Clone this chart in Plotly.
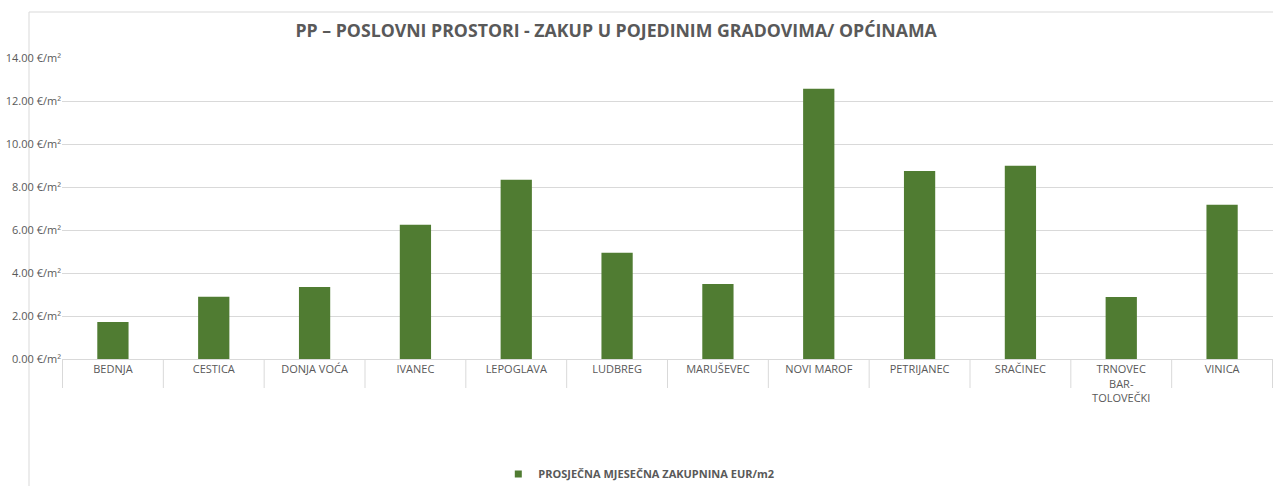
import plotly.graph_objects as go

categories = ["BEDNJA", "CESTICA", "DONJA VOĆA", "IVANEC", "LEPOGLAVA", "LUDBREG",
              "MARUŠEVEC", "NOVI MAROF", "PETRIJANEC", "SRAČINEC",
              "TRNOVEC<br>BAR-<br>TOLOVEČKI", "VINICA"]
values = [1.72, 2.89, 3.35, 6.24, 8.34, 4.94, 3.49, 12.57, 8.75, 8.99, 2.88, 7.17]
series_name = "PROSJEČNA MJESEČNA ZAKUPNINA EUR/m2"
title_text = "PP – POSLOVNI PROSTORI - ZAKUP U POJEDINIM GRADOVIMA/ OPĆINAMA"
y_ticks = [0, 2, 4, 6, 8, 10, 12, 14]
y_ticktext = [f"{v:.2f} €/m²" for v in y_ticks]

FONT = "Open Sans"
GRAY = "#595959"
GRID = "#d9d9d9"
GREEN = "#507C32"

fig = go.Figure()
fig.add_trace(go.Bar(
    x=categories, y=values, name=series_name,
    marker=dict(color=GREEN, line=dict(width=0)),
    showlegend=False,
))
# legend entry (small square like Excel)
fig.add_trace(go.Scatter(
    x=[None], y=[None], mode="markers", name=series_name,
    marker=dict(symbol="square", size=7, color=GREEN),
    showlegend=True,
))

fig.update_layout(
    width=1273, height=486,
    margin=dict(l=62, r=0, t=58, b=127, autoexpand=False),
    paper_bgcolor="white", plot_bgcolor="white",
    bargap=0.69,
    font=dict(family=FONT, color=GRAY, size=11),
    title=dict(text="<b>" + title_text + "</b>", x=0.484, xanchor="center",
               y=1 - 31 / 486, yanchor="middle", yref="container",
               font=dict(family=FONT, size=17.7, color=GRAY)),
    showlegend=True,
    legend=dict(orientation="h", x=0.4763, xanchor="center",
                y=1 - 474 / 486, yanchor="middle", yref="container",
                font=dict(family=FONT, size=11, color=GRAY, weight="bold"),
                itemwidth=30, tracegroupgap=0),
    xaxis=dict(
        type="category", showgrid=False,
        showline=True, linecolor=GRID, linewidth=1,
        ticks="",
        tickfont=dict(family=FONT, size=11, color=GRAY),
    ),
    yaxis=dict(
        range=[0, 14], tickmode="array", tickvals=y_ticks, ticktext=y_ticktext,
        showgrid=True, gridcolor=GRID, gridwidth=1,
        zeroline=False, showline=False, ticks="",
        ticklabeloverflow="allow",
        tickfont=dict(family=FONT, size=11, color=GRAY),
    ),
)

# category separators below the axis (Excel style)
for i in range(len(categories) + 1):
    fig.add_shape(type="line", xref="x", yref="paper",
                  x0=i - 0.5, x1=i - 0.5, y0=0, y1=-29 / 301,
                  line=dict(color=GRID, width=1))

# chart-area border (Excel style)
fig.add_shape(type="rect", xref="paper", yref="paper",
              x0=(29 - 62) / 1211, x1=1.05, y0=-0.6, y1=(359 - 12) / 301,
              line=dict(color=GRID, width=1), fillcolor="rgba(0,0,0,0)", layer="below")

fig.write_html("out.html", config={"displayModeBar": False},
               post_script="document.body.style.margin='0';")
